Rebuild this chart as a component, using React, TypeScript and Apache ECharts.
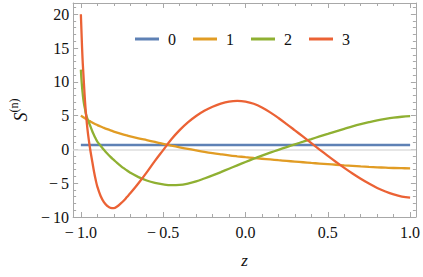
import React, { useEffect, useRef } from "react";
import * as echarts from "echarts";

const zValues = [
  -1, -0.995, -0.99, -0.985, -0.98, -0.975, -0.97, -0.96, -0.95, -0.94, -0.93, -0.92, -0.91, -0.9,
  -0.88, -0.86, -0.84, -0.82, -0.8, -0.78, -0.76, -0.74, -0.72, -0.7, -0.65, -0.6, -0.55, -0.5,
  -0.45, -0.4, -0.35, -0.3, -0.25, -0.2, -0.15, -0.1, -0.05, 0, 0.05, 0.1, 0.15, 0.2, 0.25, 0.3,
  0.35, 0.4, 0.45, 0.5, 0.55, 0.6, 0.65, 0.7, 0.75, 0.8, 0.85, 0.9, 0.95, 1,
];

const s0 = zValues.map(() => 0.65);

const s1 = [
  5.0, 4.92, 4.84, 4.76, 4.68, 4.6, 4.53, 4.38, 4.24, 4.1, 3.97, 3.84, 3.72, 3.6,
  3.38, 3.18, 2.99, 2.81, 2.64, 2.48, 2.33, 2.19, 2.06, 1.93, 1.64, 1.37, 1.1, 0.82,
  0.56, 0.31, 0.07, -0.15, -0.36, -0.55, -0.72, -0.88, -1.02, -1.15, -1.27, -1.38, -1.49, -1.6, -1.7, -1.8,
  -1.9, -2.0, -2.09, -2.18, -2.27, -2.36, -2.44, -2.52, -2.59, -2.65, -2.7, -2.75, -2.78, -2.8,
];

const s2 = [
  11.8, 9.9, 8.5, 7.4, 6.6, 6.0, 5.3, 4.5, 3.9, 3.3, 2.65, 2.1, 1.6, 1.15,
  0.55, -0.05, -0.6, -1.1, -1.55, -2.0, -2.4, -2.78, -3.12, -3.45, -4.1, -4.6, -4.95, -5.17,
  -5.28, -5.25, -5.05, -4.72, -4.3, -3.85, -3.36, -2.86, -2.36, -1.86, -1.38, -0.92, -0.48, -0.06, 0.35, 0.75,
  1.14, 1.53, 1.92, 2.3, 2.68, 3.04, 3.4, 3.73, 4.03, 4.3, 4.52, 4.7, 4.83, 4.92,
];

const s3 = [
  20, 16.6, 13.5, 11.3, 9.2, 7.2, 5.6, 3.0, 1.1, -0.5, -1.9, -3.3, -4.5, -5.5,
  -6.9, -7.8, -8.35, -8.65, -8.68, -8.45, -8.05, -7.6, -7.05, -6.5, -5.0, -3.4, -1.7, -0.1,
  1.5, 2.85, 4.0, 4.95, 5.72, 6.32, 6.77, 7.07, 7.17, 7.07, 6.75, 6.2, 5.48, 4.65, 3.75, 2.82,
  1.88, 0.93, -0.02, -0.95, -1.86, -2.74, -3.57, -4.35, -5.06, -5.7, -6.23, -6.66, -6.97, -7.12,
];

const seriesNames = ["0", "1", "2", "3"];
const seriesValues = [s0, s1, s2, s3];
const colors = ["#5E81B5", "#E19C24", "#8FB032", "#EB6235"];

const FONT = "Liberation Serif";
const FRAME = "#a8a8a8";

function fmt(v: number, digits: number, gap: string) {
  const s = Math.abs(v).toFixed(digits);
  return v < -1e-9 ? "\u2212" + gap + s : s;
}

export default function App() {
  const ref = useRef<HTMLDivElement>(null);
  useEffect(() => {
    if (!ref.current) return;
    const chart = echarts.init(ref.current, undefined, { renderer: "svg" });
    const tickCommon = {
      axisLine: { show: true, onZero: false, lineStyle: { color: FRAME, width: 1 } },
      axisTick: { show: true, inside: true, length: 5, lineStyle: { color: FRAME } },
      minorTick: { show: true, splitNumber: 5, length: 3, lineStyle: { color: FRAME } },
      splitLine: { show: false },
      minorSplitLine: { show: false },
    };
    const xRange = { min: -1.047, max: 1.035, splitNumber: 4 };
    const yRange = { min: -10, max: 21.66, splitNumber: 6 };
    chart.setOption({
      animation: false,
      textStyle: { fontFamily: FONT },
      grid: { left: 66, right: 7, top: 3, bottom: 60, containLabel: false },
      legend: {
        data: seriesNames,
        left: 130,
        top: 26,
        icon: "rect",
        itemWidth: 24,
        itemHeight: 3,
        itemGap: 17,
        textStyle: { fontFamily: FONT, fontSize: 16, color: "#111", padding: [0, 0, 0, 4] },
      },
      xAxis: [
        {
          type: "value",
          position: "bottom",
          ...xRange,
          ...tickCommon,
          axisLabel: {
            fontFamily: FONT,
            fontSize: 16,
            color: "#111",
            margin: 7,
            showMinLabel: false,
            showMaxLabel: false,
            formatter: (v: number) => fmt(v, 1, "\u2009"),
          },
          name: "z",
          nameLocation: "middle",
          nameGap: 35,
          nameTextStyle: { fontFamily: FONT, fontStyle: "italic", fontSize: 17, color: "#111" },
        },
        {
          type: "value",
          position: "top",
          ...xRange,
          ...tickCommon,
          axisLabel: { show: false },
        },
      ],
      yAxis: [
        {
          type: "value",
          position: "left",
          ...yRange,
          ...tickCommon,
          axisLabel: {
            fontFamily: FONT,
            fontSize: 16,
            color: "#111",
            margin: 4,
            showMaxLabel: false,
            formatter: (v: number) => fmt(v, 0, "\u2009"),
          },
          name: "{s|S}{sup|(n)}",
          nameLocation: "middle",
          nameRotate: 90,
          nameGap: 36,
          nameTextStyle: {
            rich: {
              s: { fontFamily: FONT, fontStyle: "italic", fontSize: 18, color: "#111", lineHeight: 22, verticalAlign: "bottom" },
              sup: { fontFamily: FONT, fontSize: 12, color: "#111", lineHeight: 22, verticalAlign: "top", padding: [0, 0, 6, 0] },
            },
          },
        },
        {
          type: "value",
          position: "right",
          ...yRange,
          ...tickCommon,
          axisLabel: { show: false },
        },
      ],
      series: seriesValues.map((vals, i) => ({
        name: seriesNames[i],
        type: "line",
        xAxisIndex: 0,
        yAxisIndex: 0,
        showSymbol: false,
        smooth: 0.4,
        color: colors[i],
        lineStyle: { width: 2.3, color: colors[i] },
        data: zValues.map((z, j) => [z, vals[j]]),
        z: 3 + i,
        ...(i === 0
          ? {
              markLine: {
                silent: true,
                symbol: ["none", "none"],
                label: { show: false },
                lineStyle: { color: "#dedede", width: 1.5, type: "solid" },
                data: [{ yAxis: 0 }],
                z: 1,
              },
            }
          : {}),
      })),
    });
    return () => chart.dispose();
  }, []);
  return <div ref={ref} style={{ position: "absolute", left: 0, top: 0, width: 423, height: 277 }} />;
}
